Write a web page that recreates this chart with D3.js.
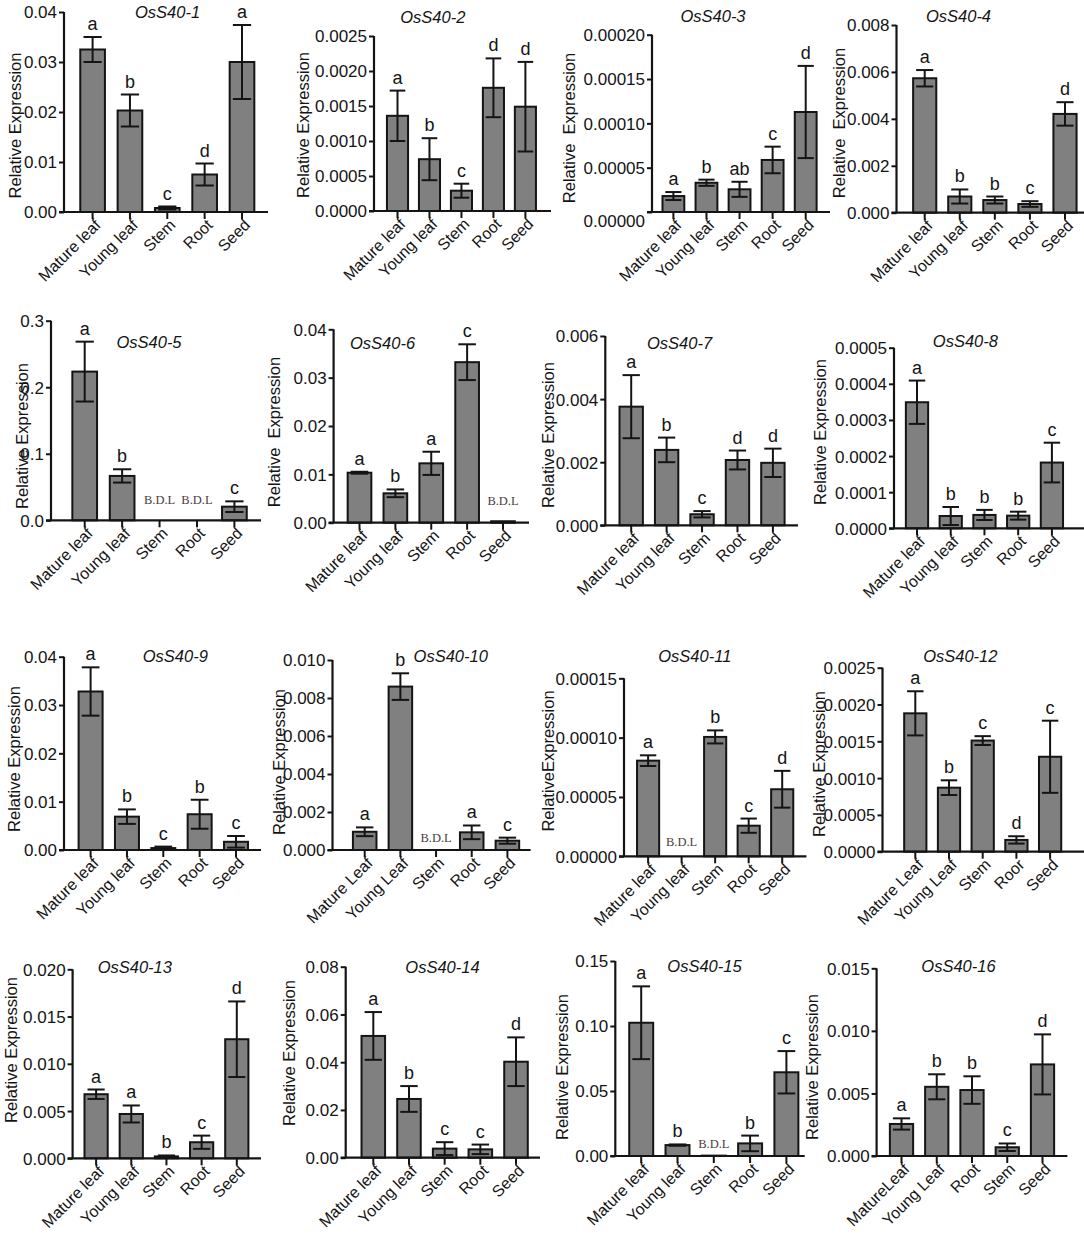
<!DOCTYPE html>
<html>
<head>
<meta charset="utf-8">
<script src="https://cdn.jsdelivr.net/npm/d3@7"></script>
<style>
  body { margin: 0; background: #fff; }
  svg { display: block; font-family: Arial, "Liberation Sans", sans-serif; }
</style>
</head>
<body>
<svg id="chart" width="1084" height="1239"></svg>
<script>
// gene names, one panel each
const genes = ['OsS40-1', 'OsS40-2', 'OsS40-3', 'OsS40-4', 'OsS40-5', 'OsS40-6', 'OsS40-7', 'OsS40-8',
  'OsS40-9', 'OsS40-10', 'OsS40-11', 'OsS40-12', 'OsS40-13', 'OsS40-14', 'OsS40-15', 'OsS40-16'];

const tissues_a = ['Mature leaf', 'Young leaf', 'Stem', 'Root', 'Seed'];
const tissues = [tissues_a, tissues_a, tissues_a, tissues_a, tissues_a, tissues_a, tissues_a, tissues_a,
  tissues_a, ['Mature Leaf', 'Young Leaf', 'Stem', 'Root', 'Seed'], tissues_a,
  ['Mature Leaf', 'Young Leaf', 'Stem', 'Roor', 'Seed'], tissues_a, tissues_a, tissues_a,
  ['MatureLeaf', 'Young Leaf', 'Root', 'Stem', 'Seed']];

const means = [
  [0.0325, 0.0203, 0.0008, 0.0075, 0.030],
  [0.00136, 0.00074, 0.00029, 0.00176, 0.00149],
  [0.000018, 0.000033, 0.0000256, 0.0000587, 0.0001128],
  [0.00573, 0.00069, 0.00054, 0.00037, 0.00421],
  [0.2235, 0.0667, 0, 0, 0.0205],
  [0.01034, 0.00608, 0.01228, 0.0332, 0.0003],
  [0.00376, 0.00239, 0.00035, 0.00207, 0.00198],
  [0.000349, 0.000034, 0.000037, 0.000035, 0.000182],
  [0.0328, 0.0069, 0.0004, 0.0074, 0.0017],
  [0.00096, 0.0086, 0, 0.00093, 0.00049],
  [0.0000806, 0, 0.0001006, 0.0000258, 0.0000565],
  [0.00188, 0.00087, 0.00151, 0.00016, 0.00129],
  [0.00678, 0.00469, 0.0002, 0.0017, 0.0126],
  [0.051, 0.0246, 0.0038, 0.0035, 0.0402],
  [0.1025, 0.0084, 0.0003, 0.0097, 0.0644],
  [0.00256, 0.00553, 0.00527, 0.0007, 0.00732]
];

const errors = [
  [0.0025, 0.0032, 0.0003, 0.0022, 0.0074],
  [0.00036, 0.0003, 0.0001, 0.00042, 0.00064],
  [0.0000045, 0.0000035, 0.0000085, 0.000015, 0.000052],
  [0.00035, 0.0003, 0.00015, 0.00012, 0.0005],
  [0.045, 0.01, 0, 0, 0.008],
  [0.0002, 0.0008, 0.0024, 0.0037, 0],
  [0.001, 0.00039, 0.0001, 0.0003, 0.00045],
  [0.00006, 0.000025, 0.000014, 0.000011, 0.000055],
  [0.005, 0.0015, 0.0003, 0.003, 0.0012],
  [0.00023, 0.0007, 0, 0.00036, 0.00016],
  [0.0000045, 0, 0.0000055, 0.000006, 0.0000155],
  [0.0003, 0.0001, 0.00006, 0.00005, 0.00049],
  [0.0005, 0.0009, 0.0001, 0.0007, 0.004],
  [0.01, 0.0054, 0.0027, 0.002, 0.0102],
  [0.028, 0.0005, 0, 0.006, 0.0163],
  [0.00045, 0.001, 0.0011, 0.0003, 0.0024]
];

// significance letters ('B.D.L' = below detection limit)
const letters = [
  ['a', 'b', 'c', 'd', 'a'], ['a', 'b', 'c', 'd', 'd'], ['a', 'b', 'ab', 'c', 'd'], ['a', 'b', 'b', 'c', 'd'],
  ['a', 'b', 'B.D.L', 'B.D.L', 'c'], ['a', 'b', 'a', 'c', 'B.D.L'], ['a', 'b', 'c', 'd', 'd'], ['a', 'b', 'b', 'b', 'c'],
  ['a', 'b', 'c', 'b', 'c'], ['a', 'b', 'B.D.L', 'a', 'c'], ['a', 'B.D.L', 'b', 'c', 'd'], ['a', 'b', 'c', 'd', 'c'],
  ['a', 'a', 'b', 'c', 'd'], ['a', 'b', 'c', 'c', 'd'], ['a', 'b', 'B.D.L', 'b', 'c'], ['a', 'b', 'b', 'c', 'd']
];

const yMax = [0.04, 0.0025, 0.0002, 0.008, 0.3, 0.04, 0.006, 0.0005, 0.04, 0.010, 0.00015, 0.0025, 0.020, 0.08, 0.15, 0.015];
const yStep = [0.01, 0.0005, 0.00005, 0.002, 0.1, 0.01, 0.002, 0.0001, 0.01, 0.002, 0.00005, 0.0005, 0.005, 0.02, 0.05, 0.005];
const yDigits = [2, 4, 5, 3, 1, 2, 3, 4, 2, 3, 5, 4, 3, 2, 2, 3];
const yTitles = ['Relative Expression', 'Relative Expression', 'Relative  Expression', 'Relative  Expression',
  'Relative Expression', 'Relative  Expression', 'Relative Expression', 'Relative Expression',
  'Relative Expression', 'Relative Expression', 'RelativeExpression', 'Relative Expression',
  'Relative Expression', 'Relative Expression', 'Relative Expression', 'Relative Expression'];

// panel frames in page pixels
const frames = [
  {ax: 64, ax1: 268, c0: 92.6, c4: 242, y0: 212, y1: 12, tx: 167.6, ty: 18, lx: 21, ly: 125.5, bdl: 16},
  {ax: 374, ax1: 551, c0: 397.5, c4: 525.4, y0: 211, y1: 36, tx: 432.8, ty: 23, lx: 309, ly: 125, bdl: 16},
  {ax: 652, ax1: 830, c0: 673.4, c4: 805.7, y0: 212, y1: 34.7, tx: 713, ty: 22, lx: 575, ly: 128, bdl: 16},
  {ax: 896.5, ax1: 1084, c0: 924.7, c4: 1065, y0: 212.7, y1: 25, tx: 958.5, ty: 22, lx: 845, ly: 123, bdl: 16},
  {ax: 51, ax1: 261, c0: 84.7, c4: 234.4, y0: 520.3, y1: 320.7, tx: 149, ty: 348, lx: 27.5, ly: 436, bdl: 16},
  {ax: 333.6, ax1: 529, c0: 359.5, c4: 503, y0: 522.7, y1: 329.3, tx: 382.6, ty: 349, lx: 280, ly: 432, bdl: 18},
  {ax: 605.3, ax1: 798, c0: 631.2, c4: 772.9, y0: 525.3, y1: 336, tx: 679.6, ty: 349, lx: 554, ly: 435, bdl: 16},
  {ax: 894, ax1: 1084, c0: 917, c4: 1051.9, y0: 528.3, y1: 347.7, tx: 965.4, ty: 347, lx: 826, ly: 432, bdl: 16},
  {ax: 64, ax1: 261, c0: 90.6, c4: 236, y0: 850, y1: 656.7, tx: 175.3, ty: 662, lx: 20, ly: 759, bdl: 8},
  {ax: 332.5, ax1: 530.6, c0: 364.7, c4: 507.4, y0: 850, y1: 660, tx: 450.7, ty: 662, lx: 285, ly: 762, bdl: 8},
  {ax: 624, ax1: 806.4, c0: 648.1, c4: 782.2, y0: 856.3, y1: 678.3, tx: 694.8, ty: 662, lx: 554, ly: 761, bdl: 10},
  {ax: 882.5, ax1: 1084, c0: 915.3, c4: 1050.1, y0: 851.7, y1: 667.7, tx: 960.3, ty: 662, lx: 825, ly: 764, bdl: 8},
  {ax: 72.6, ax1: 261, c0: 96.1, c4: 236.8, y0: 1158.3, y1: 969.3, tx: 134.8, ty: 973, lx: 17, ly: 1050, bdl: 8},
  {ax: 345.7, ax1: 540, c0: 373.3, c4: 516, y0: 1157.7, y1: 966.7, tx: 442.5, ty: 973, lx: 295, ly: 1053, bdl: 8},
  {ax: 615.3, ax1: 804.7, c0: 641.2, c4: 786.4, y0: 1156, y1: 961, tx: 704.5, ty: 972, lx: 568, ly: 1067, bdl: 8},
  {ax: 876.6, ax1: 1067.4, c0: 901.5, c4: 1042.5, y0: 1156, y1: 968.3, tx: 958.5, ty: 972, lx: 818, ly: 1067, bdl: 8}
];

const ink = '#141414';
const barFill = '#808080';
const svg = d3.select('#chart');

genes.forEach((gene, i) => {
  const f = frames[i];
  const cats = tissues[i];
  const step = (f.c4 - f.c0) / 4;
  const x = d3.scaleBand().domain(cats).range([f.c0 - step / 2, f.c4 + step / 2]).paddingInner(0.34).paddingOuter(0.17);
  const y = d3.scaleLinear().domain([0, yMax[i]]).range([f.y0, f.y1]);
  const g = svg.append('g').attr('class', 'panel');
  const rows = cats.map((c, j) => ({cat: c, m: means[i][j], e: errors[i][j], l: letters[i][j]}));
  const cx = d => x(d.cat) + x.bandwidth() / 2;
  const cap = x.bandwidth() * 0.37;

  // y axis
  const ticks = d3.range(0, yMax[i] + yStep[i] / 2, yStep[i]);
  const yAxis = d3.axisLeft(y).tickValues(ticks).tickSize(5).tickPadding(2)
    .tickFormat(d3.format('.' + yDigits[i] + 'f'));
  const ya = g.append('g').attr('transform', `translate(${f.ax},0)`).call(yAxis);
  ya.select('.domain').attr('d', `M0,${f.y0}V${f.y1}`).attr('stroke', ink).attr('stroke-width', 2.2);
  ya.selectAll('.tick line').attr('stroke', ink).attr('stroke-width', 2);
  ya.selectAll('.tick text').attr('fill', ink).style('font-size', '17px')
    .attr('dy', (d, k) => (i === 2 && k === 0) ? '0.85em' : '0.35em');

  // bars
  g.selectAll('rect.bar').data(rows.filter(d => d.m > 0)).enter().append('rect')
    .attr('class', 'bar')
    .attr('x', d => x(d.cat))
    .attr('width', x.bandwidth())
    .attr('y', d => y(d.m))
    .attr('height', d => y(0) - y(d.m))
    .attr('fill', barFill).attr('stroke', ink).attr('stroke-width', 2);

  // error bars
  const eb = g.selectAll('g.err').data(rows.filter(d => d.e > 0)).enter().append('g').attr('class', 'err')
    .attr('stroke', ink).attr('stroke-width', 2);
  eb.append('line').attr('x1', cx).attr('x2', cx).attr('y1', d => y(d.m - d.e)).attr('y2', d => y(d.m + d.e));
  eb.append('line').attr('x1', d => cx(d) - cap).attr('x2', d => cx(d) + cap)
    .attr('y1', d => y(d.m + d.e)).attr('y2', d => y(d.m + d.e));
  eb.append('line').attr('x1', d => cx(d) - cap).attr('x2', d => cx(d) + cap)
    .attr('y1', d => y(d.m - d.e)).attr('y2', d => y(d.m - d.e));

  // x axis
  const xAxis = d3.axisBottom(x).tickSize(7).tickFormat('');
  const xa = g.append('g').attr('transform', `translate(0,${f.y0})`).call(xAxis);
  xa.select('.domain').attr('d', `M${f.ax - 5},0H${f.ax1}`).attr('stroke', ink).attr('stroke-width', 2.2);
  xa.selectAll('.tick line').attr('stroke', ink).attr('stroke-width', 2);

  g.selectAll('text.cat').data(rows).enter().append('text')
    .attr('class', 'cat')
    .attr('transform', d => `translate(${cx(d) + 9},${f.y0 + 14}) rotate(-45)`)
    .attr('text-anchor', 'end')
    .attr('fill', ink)
    .style('font-size', '16px')
    .text(d => d.cat);

  // significance letters
  g.selectAll('text.sig').data(rows.filter(d => d.l !== 'B.D.L')).enter().append('text')
    .attr('class', 'sig')
    .attr('x', cx)
    .attr('y', d => y(d.m + d.e) - 7)
    .attr('text-anchor', 'middle')
    .attr('fill', ink)
    .style('font-size', '18px')
    .text(d => d.l);

  g.selectAll('text.bdl').data(rows.filter(d => d.l === 'B.D.L')).enter().append('text')
    .attr('class', 'bdl')
    .attr('x', cx)
    .attr('y', f.y0 - f.bdl)
    .attr('text-anchor', 'middle')
    .attr('fill', '#4a3d3d')
    .style('font-family', '"Liberation Serif", "Times New Roman", serif')
    .style('font-size', '12.5px')
    .text(d => d.l);

  // title and y label
  g.append('text')
    .attr('x', f.tx).attr('y', f.ty)
    .attr('text-anchor', 'middle')
    .attr('fill', ink)
    .style('font-size', '16.5px').style('font-style', 'italic')
    .text(gene);

  g.append('text')
    .attr('transform', `translate(${f.lx},${f.ly}) rotate(-90)`)
    .attr('text-anchor', 'middle')
    .attr('fill', ink)
    .style('font-size', '16.5px')
    .style('white-space', 'pre')
    .text(yTitles[i]);
});
</script>
</body>
</html>
